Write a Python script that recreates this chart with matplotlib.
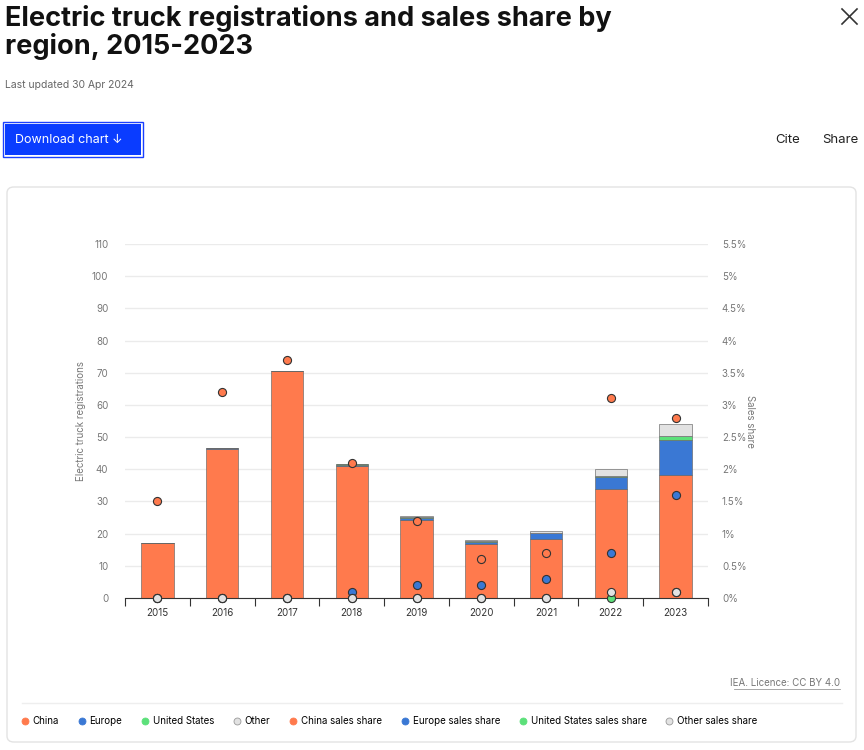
import numpy as np
import matplotlib.pyplot as plt
from matplotlib.patches import FancyBboxPatch, Rectangle
from matplotlib.lines import Line2D

years = ['2015', '2016', '2017', '2018', '2019', '2020', '2021', '2022', '2023']

# registrations (thousands)
china = [17.2, 46.2, 70.5, 41.0, 24.3, 16.7, 18.4, 33.9, 38.3]
europe = [0.0, 0.3, 0.0, 0.3, 0.7, 0.8, 1.8, 3.8, 10.8]
usa = [0.0, 0.0, 0.0, 0.2, 0.2, 0.2, 0.0, 0.3, 1.3]
other = [0.0, 0.0, 0.1, 0.2, 0.4, 0.3, 0.5, 2.0, 3.7]

# sales share (%)
china_share = [1.5, 3.2, 3.7, 2.1, 1.2, 0.6, 0.7, 3.1, 2.8]
europe_share = [0.0, 0.0, 0.0, 0.1, 0.2, 0.2, 0.3, 0.7, 1.6]
usa_share = [0.0, 0.0, 0.0, 0.0, 0.0, 0.0, 0.0, 0.0, 0.1]
other_share = [0.0, 0.0, 0.0, 0.0, 0.0, 0.0, 0.0, 0.1, 0.1]

c_china = '#FF7A4D'
c_europe = '#3A78D4'
c_usa = '#5CE07A'
c_other = '#E2E2E2'
edge = '#666666'

plt.rcParams['font.family'] = ['Inter', 'DejaVu Sans']

W, H = 864, 750
fig = plt.figure(figsize=(W / 100, H / 100), dpi=100)

def fx(px):
    return px / W

def fy(py):
    return 1 - py / H

# header
fig.text(fx(5), fy(18), 'Electric truck registrations and sales share by',
         fontsize=19.5, fontweight='bold', va='center', ha='left', color='#111111')
fig.text(fx(5), fy(47), 'region, 2015-2023',
         fontsize=19.5, fontweight='bold', va='center', ha='left', color='#111111')
fig.text(fx(5), fy(85), 'Last updated 30 Apr 2024', fontsize=7.5, color='#666666', va='center')
fig.lines.append(Line2D([fx(842), fx(857)], [fy(9), fy(24)], transform=fig.transFigure,
                        color='#333333', lw=1.2))
fig.lines.append(Line2D([fx(842), fx(857)], [fy(24), fy(9)], transform=fig.transFigure,
                        color='#333333', lw=1.2))

fig.patches.append(Rectangle((fx(3), fy(157)), fx(140), 35 / H, transform=fig.transFigure,
                             facecolor='white', edgecolor='#1a3fff', lw=1))
fig.patches.append(Rectangle((fx(5), fy(155)), fx(136), 31 / H, transform=fig.transFigure,
                             facecolor='#0A3CFF', edgecolor='none'))
fig.text(fx(15), fy(140), 'Download chart ↓', fontsize=9, color='white', va='center')
fig.text(fx(788), fy(140), 'Cite', fontsize=9.5, color='#222222', va='center', ha='center')
fig.text(fx(840), fy(140), 'Share', fontsize=9.5, color='#222222', va='center', ha='center')

# card
card = FancyBboxPatch((fx(7), fy(742)), fx(849), (742 - 187) / H,
                      boxstyle='round,pad=0,rounding_size=0.008',
                      transform=fig.transFigure, facecolor='white',
                      edgecolor='#e3e3e3', lw=1, zorder=-1)
fig.patches.append(card)

ax = fig.add_axes([fx(125), fy(598), fx(583), (598 - 244) / H])
ax.patch.set_alpha(0)
x = np.arange(len(years))
bw = 0.5
bottom = np.zeros(len(years))
for vals, col in [(china, c_china), (europe, c_europe), (usa, c_usa), (other, c_other)]:
    ax.bar(x, vals, bw, bottom=bottom, color=col, edgecolor=edge, linewidth=0.45, zorder=2)
    bottom += np.array(vals)

ax.set_xlim(-0.5, len(years) - 0.5)
ax.set_ylim(0, 110)
ax.set_yticks(range(0, 111, 10))
ax.grid(axis='y', color='#ebebeb', lw=1, zorder=0)
for s in ['top', 'right', 'left']:
    ax.spines[s].set_visible(False)
ax.spines['bottom'].set_color('#333333')
ax.spines['bottom'].set_linewidth(0.8)
ax.set_xticks(x)
ax.set_xticklabels(years)
ax.set_xticks(np.arange(-0.5, len(years), 1), minor=True)
ax.tick_params(axis='x', which='major', length=0, labelsize=7, colors='#333333', pad=7)
ax.tick_params(axis='x', which='minor', length=6, width=0.8, color='#333333')
ax.tick_params(axis='y', length=0, labelsize=7, labelcolor='#777777', pad=12)
ax.set_ylabel('Electric truck registrations', fontsize=7, color='#777777', labelpad=4)

ax2 = ax.twinx()
ax2.set_ylim(0, 5.5)
ax2.set_yticks(np.arange(0, 5.51, 0.5))
ax2.set_yticklabels(['0%', '0.5%', '1%', '1.5%', '2%', '2.5%', '3%', '3.5%', '4%', '4.5%', '5%', '5.5%'])
for s in ax2.spines.values():
    s.set_visible(False)
ax2.tick_params(axis='y', length=0, labelsize=7, labelcolor='#777777', pad=10)
ax2.set_ylabel('Sales share', fontsize=7, color='#777777', rotation=270, labelpad=6)
for vals, col in [(china_share, c_china), (europe_share, c_europe), (usa_share, c_usa), (other_share, c_other)]:
    ax2.scatter(x, vals, s=34, color=col, edgecolor='#333333', linewidth=0.8, zorder=4, clip_on=False)

# licence
fig.text(fx(840), fy(683), 'IEA. Licence: CC BY 4.0', fontsize=7, color='#777777', ha='right',
         va='center')
fig.lines.append(Line2D([fx(734), fx(840)], [fy(689), fy(689)], transform=fig.transFigure,
                        color='#999999', lw=0.6))
fig.lines.append(Line2D([fx(22), fx(842)], [fy(703), fy(703)], transform=fig.transFigure,
                        color='#eeeeee', lw=1))

labels = ['China', 'Europe', 'United States', 'Other', 'China sales share',
          'Europe sales share', 'United States sales share', 'Other sales share']
cols = [c_china, c_europe, c_usa, c_other] * 2
handles = [Line2D([], [], marker='o', ls='none', markersize=5, markerfacecolor=c,
                  markeredgecolor='#999999' if c == c_other else c, markeredgewidth=0.6) for c in cols]
fig.legend(handles, labels, loc='center left', bbox_to_anchor=(fx(10), fy(721)), ncol=8,
           frameon=False, fontsize=7, handletextpad=0.2, columnspacing=1.75, handlelength=1.2)

fig.savefig('out.png', dpi=100)
